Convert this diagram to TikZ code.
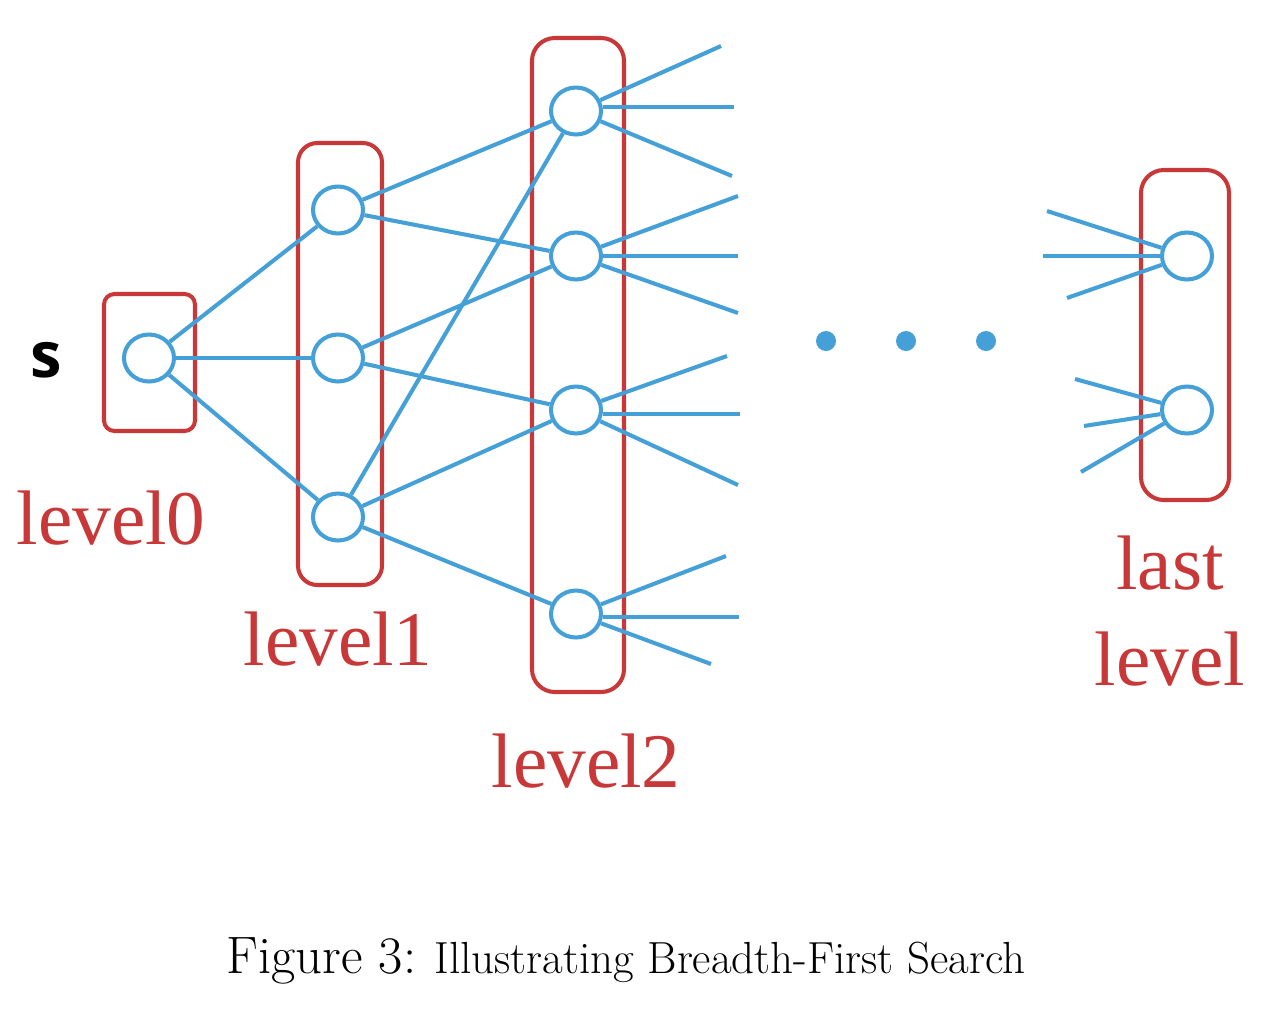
\documentclass[tikz,border=0pt]{standalone}
\usepackage{fontspec}
\usepackage{tikz}
\usetikzlibrary{shapes.geometric}
\newfontfamily\levelfont{Liberation Serif}
\newfontfamily\srcfont{Open Sans}
\definecolor{bfsBlue}{HTML}{45A0D8}
\definecolor{bfsRed}{HTML}{C83838}
\tikzset{
  vertex/.style={ellipse, draw=bfsBlue, line width=2.3pt,
    minimum width=1.0cm, minimum height=0.94cm, inner sep=0pt},
  edge/.style={draw=bfsBlue, line width=2.3pt},
  level box/.style={draw=bfsRed, line width=2.3pt},
  level label/.style={anchor=base, text=bfsRed,
    font=\levelfont\fontsize{44}{48}\selectfont},
  dot/.style={circle, fill=bfsBlue, minimum size=0.4cm, inner sep=0pt}
}

\begin{document}
\begin{tikzpicture}[x=0.02cm, y=-0.02cm]
  \useasboundingbox (0,0) rectangle (1275,1012);

  \draw[level box, rounded corners=6pt] (104,294) rectangle (195,431);
  \draw[level box, rounded corners=11pt] (298,143) rectangle (382,585);
  \draw[level box, rounded corners=13pt] (532,38) rectangle (624,692);
  \draw[level box, rounded corners=13pt] (1141,170) rectangle (1229,500);

  \node[vertex] (v0) at (149,358) {};
  \node[vertex] (v1a) at (338,210) {};
  \node[vertex] (v1b) at (338,358) {};
  \node[vertex] (v1c) at (338,517) {};
  \node[vertex] (v2a) at (576,111) {};
  \node[vertex] (v2b) at (576,256) {};
  \node[vertex] (v2c) at (576,410) {};
  \node[vertex] (v2d) at (576,614) {};
  \node[vertex] (vla) at (1187,256) {};
  \node[vertex] (vlb) at (1187,410) {};

  \draw[edge] (v0) -- (v1a); \draw[edge] (v0) -- (v1b);
  \draw[edge] (v0) -- (v1c);
  \draw[edge] (v1a) -- (v2a); \draw[edge] (v1a) -- (v2b);
  \draw[edge] (v1b) -- (v2b); \draw[edge] (v1b) -- (v2c);
  \draw[edge] (v1c) -- (v2a); \draw[edge] (v1c) -- (v2c);
  \draw[edge] (v1c) -- (v2d);

  \coordinate (a1) at (721,46);  \coordinate (a2) at (734,107);
  \coordinate (a3) at (732,176);
  \coordinate (b1) at (738,196); \coordinate (b2) at (738,256);
  \coordinate (b3) at (738,313);
  \coordinate (c1) at (727,356); \coordinate (c2) at (740,414);
  \coordinate (c3) at (738,485);
  \coordinate (d1) at (726,556); \coordinate (d2) at (739,617);
  \coordinate (d3) at (711,664);
  \draw[edge] (v2a) -- (a1); \draw[edge] (v2a.east |- a2) -- (a2);
  \draw[edge] (v2a) -- (a3);
  \draw[edge] (v2b) -- (b1); \draw[edge] (v2b.east |- b2) -- (b2);
  \draw[edge] (v2b) -- (b3);
  \draw[edge] (v2c) -- (c1); \draw[edge] (v2c.east |- c2) -- (c2);
  \draw[edge] (v2c) -- (c3);
  \draw[edge] (v2d) -- (d1); \draw[edge] (v2d.east |- d2) -- (d2);
  \draw[edge] (v2d) -- (d3);

  \coordinate (e1) at (1047,211); \coordinate (e2) at (1043,256);
  \coordinate (e3) at (1067,298);
  \coordinate (f1) at (1075,379); \coordinate (f2) at (1084,426);
  \coordinate (f3) at (1081,472);
  \draw[edge] (e1) -- (vla); \draw[edge] (e2) -- (vla);
  \draw[edge] (e3) -- (vla);
  \draw[edge] (f1) -- (vlb); \draw[edge] (f2) -- (vlb);
  \draw[edge] (f3) -- (vlb);

  \node[dot] (dt1) at (826,341) {};
  \node[dot] (dt2) at (906,341) {};
  \node[dot] (dt3) at (986,341) {};

  \node[anchor=base, font=\srcfont\bfseries\fontsize{36}{40}\selectfont]
    (src) at (46,377) {s};
  \node[level label] (l0) at (111,544) {level0};
  \node[level label] (l1) at (338,665) {level1};
  \node[level label] (l2) at (586,787) {level2};
  \node[level label] (ll1) at (1170,589) {last};
  \node[level label] (ll2) at (1170,685) {level};

  \node[anchor=base, font=\fontsize{25.6}{29}\selectfont] (cap) at (626,973)
    {{\fontsize{30}{33}\selectfont Figure 3:} Illustrating Breadth-First Search};
\end{tikzpicture}
\end{document}
